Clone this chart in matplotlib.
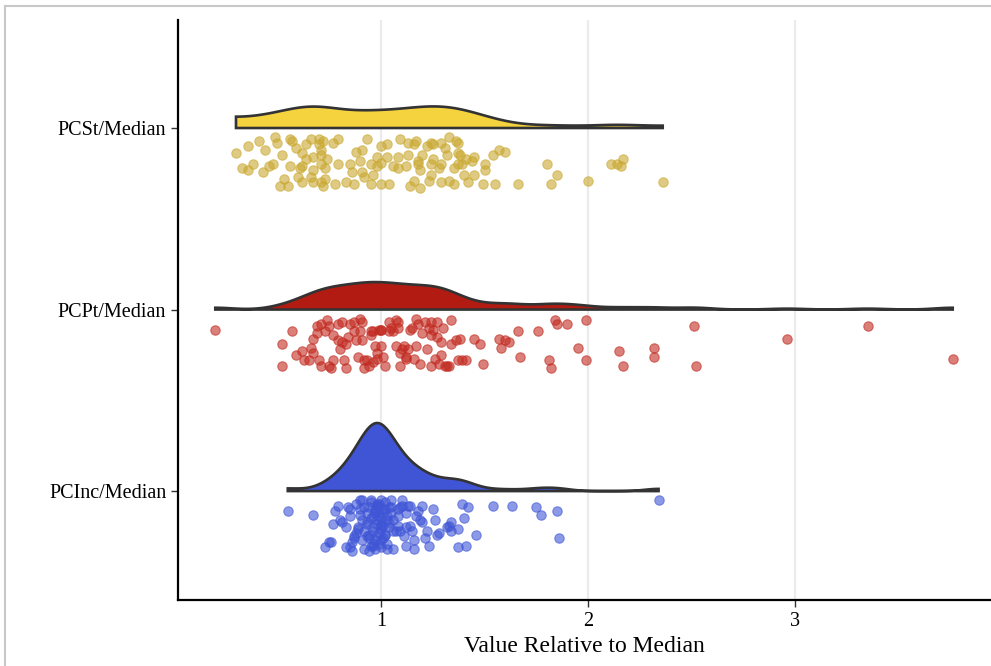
import numpy as np
import matplotlib
matplotlib.use("Agg")
import matplotlib.pyplot as plt
from matplotlib.lines import Line2D

# groups, top to bottom
groups = ["PCSt/Median", "PCPt/Median", "PCInc/Median"]
fills = ["#F5D33F", "#B21B12", "#3F55D6"]
dots = ["#C9A830", "#C22A20", "#3F55D6"]

# values relative to median and the jitter (drop below the baseline)
pcst_val = [0.41, 0.49, 0.50, 0.56, 0.57, 0.66, 0.70, 0.72, 0.79, 0.93, 1.09, 1.13, 1.17, 1.24, 1.29, 1.33, 1.36, 1.37,
            0.36, 0.59, 0.64, 0.70, 0.71, 0.77, 0.88, 0.91, 1.00, 1.03, 1.16, 1.22, 1.25, 1.31, 1.57, 1.60,
            0.30, 0.44, 0.52, 0.62, 0.64, 0.67, 0.71, 0.74, 0.90, 0.98, 1.03, 1.08, 1.13, 1.18, 1.20, 1.25, 1.32, 1.37,
            1.38, 1.41, 1.45, 1.44, 1.54,
            0.33, 0.36, 0.38, 0.43, 0.46, 0.48, 0.56, 0.61, 0.62, 0.67, 0.71, 0.73, 0.79, 0.85, 0.86, 0.91, 0.95, 0.98,
            1.00, 1.06, 1.08, 1.12, 1.18, 1.19, 1.24, 1.28, 1.29, 1.35, 1.37, 1.39, 1.50, 1.50, 1.80, 2.11, 2.14, 2.16, 2.17,
            0.51, 0.53, 0.55, 0.60, 0.62, 0.66, 0.67, 0.71, 0.73, 0.72, 0.78, 0.83, 0.87, 0.92, 0.95, 0.96, 1.00, 1.04,
            1.14, 1.16, 1.19, 1.23, 1.24, 1.29, 1.33, 1.35, 1.40, 1.42, 1.45, 1.49, 1.55, 1.66, 1.82, 1.85, 2.00, 2.36]
pcst_jit = [.07, .05, .08, .06, .07, .06, .06, .07, .06, .06, .06, .08, .07, .08, .08, .05, .07, .08,
            .10, .11, .09, .09, .12, .08, .13, .12, .10, .09, .09, .10, .09, .11, .12, .13,
            .14, .12, .15, .14, .17, .16, .15, .17, .18, .16, .16, .16, .15, .18, .15, .17, .15, .14,
            .15, .17, .16, .18, .15,
            .22, .23, .20, .24, .21, .20, .21, .22, .21, .23, .20, .22, .20, .20, .24, .24, .20, .21,
            .19, .21, .22, .21, .20, .23, .20, .22, .20, .22, .20, .20, .20, .23, .20, .20, .20, .21, .17,
            .32, .28, .32, .27, .30, .27, .30, .30, .28, .32, .31, .30, .31, .27, .31, .26, .31, .31,
            .32, .29, .33, .29, .26, .30, .29, .31, .26, .30, .26, .31, .31, .31, .31, .26, .29, .30]

pcpt_val = [0.20, 0.57, 0.52, 0.52, 0.59, 0.62, 0.63, 0.65, 0.66, 0.67, 0.67, 0.69, 0.69, 0.70, 0.71, 0.71,
            0.73, 0.74, 0.75, 0.75, 0.76, 0.77, 0.77, 0.79, 0.79, 0.80, 0.81, 0.81, 0.82, 0.83, 0.83, 0.84,
            0.85, 0.87, 0.87, 0.88, 0.89, 0.90, 0.90, 0.91, 0.91, 0.92, 0.92, 0.93, 0.94, 0.95, 0.95, 0.96,
            0.96, 0.97, 0.98, 0.98, 0.99, 1.00, 1.00, 1.00, 1.01, 1.02, 1.04, 1.04, 1.05, 1.06, 1.07, 1.07,
            1.08, 1.08, 1.09, 1.09, 1.10, 1.11, 1.12, 1.12, 1.13, 1.14, 1.15, 1.16, 1.17, 1.17, 1.18, 1.19,
            1.20, 1.21, 1.22, 1.23, 1.24, 1.24, 1.24, 1.25, 1.26, 1.27, 1.27, 1.28, 1.29, 1.29, 1.30, 1.31,
            1.32, 1.33, 1.34, 1.34, 1.36, 1.37, 1.38, 1.39, 1.41, 1.45, 1.48, 1.49, 1.57, 1.58, 1.60, 1.62,
            1.66, 1.67, 1.76, 1.81, 1.82, 1.84, 1.85, 1.90, 1.95, 1.99, 1.99,
            2.15, 2.17, 2.32, 2.32, 2.51, 2.52, 2.96, 3.35, 3.76]
pcpt_jit = [.11, .12, .19, .31, .25, .23, .28, .28, .21, .24, .16, .09, .13, .28, .08, .31,
            .12, .06, .09, .31, .32, .28, .14, .08, .17, .22, .18, .07, .28, .32, .19, .15,
            .08, .12, .07, .17, .26, .12, .05, .17, .07, .32, .28, .28, .31, .12, .14, .29,
            .12, .20, .24, .27, .11, .11, .11, .20, .26, .31, .12, .07, .10, .12, .06, .20,
            .07, .10, .31, .24, .22, .20, .26, .27, .22, .11, .10, .27, .05, .20, .08, .30,
            .13, .07, .22, .10, .07, .14, .31, .11, .27, .15, .07, .30, .18, .25, .10, .31,
            .31, .31, .19, .06, .17, .28, .16, .28, .28, .16, .19, .30, .16, .21, .17, .18,
            .12, .26, .12, .28, .32, .06, .08, .08, .21, .06, .28,
            .23, .31, .21, .26, .09, .31, .16, .09, .27]

pcinc_val = [0.55, 0.67, 0.73, 0.75, 0.76, 0.77, 0.78, 0.79, 0.80, 0.81, 0.83, 0.83, 0.84, 0.85, 0.85, 0.85,
             0.86, 0.86, 0.87, 0.87, 0.88, 0.89, 0.90, 0.90, 0.91, 0.91, 0.92, 0.92, 0.93, 0.93, 0.93, 0.94,
             0.94, 0.95, 0.95, 0.96, 0.96, 0.97, 0.97, 0.98, 0.98, 0.99, 0.99, 1.00, 1.00, 1.00, 1.01, 1.01,
             1.02, 1.02, 1.03, 1.03, 1.04, 1.04, 1.05, 1.05, 1.06, 1.06, 1.07, 1.08, 1.08, 1.08, 1.09, 1.09,
             1.10, 1.10, 1.11, 1.12, 1.12, 1.12, 1.13, 1.14, 1.14, 1.15, 1.16, 1.16, 1.17, 1.18, 1.19, 1.20,
             1.20, 1.21, 1.22, 1.23, 1.25, 1.26, 1.27, 1.28, 1.32, 1.33, 1.34, 1.34, 1.37, 1.37, 1.39, 1.40,
             1.41, 1.42, 1.46, 1.54, 1.63, 1.75, 1.77, 1.85, 1.86, 2.34,
             # overlapping dots in the dense core
             0.88, 0.89, 0.90, 0.91, 0.92, 0.93, 0.94, 0.95, 0.95, 0.96, 0.96, 0.97, 0.97, 0.98, 0.98, 0.98,
             0.99, 0.99, 0.99, 1.00, 1.00, 1.00, 1.01, 1.01, 1.02, 1.02, 1.03, 1.03, 1.04, 1.05, 1.06, 0.94,
             0.97, 1.00, 0.96]
pcinc_jit = [.11, .13, .31, .28, .28, .18, .11, .08, .16, .17, .31, .20, .09, .10, .31, .14,
             .28, .33, .25, .26, .23, .20, .05, .10, .16, .05, .22, .32, .12, .25, .18, .33,
             .09, .15, .05, .20, .29, .10, .32, .07, .16, .23, .09, .31, .19, .05, .12, .26,
             .10, .24, .16, .32, .09, .20, .12, .05, .32, .16, .22, .10, .14, .19, .22, .09,
             .05, .08, .25, .20, .30, .12, .08, .08, .19, .22, .27, .32, .14, .11, .16, .17,
             .08, .26, .22, .30, .10, .16, .24, .23, .20, .19, .22, .17, .31, .21, .07, .15,
             .30, .09, .24, .08, .08, .09, .13, .11, .26, .05,
             .07, .21, .13, .27, .09, .17, .24, .06, .30, .14, .22, .11, .27, .08, .18, .25,
             .13, .29, .07, .21, .15, .27, .10, .19, .06, .24, .14, .29, .17, .09, .22, .26,
             .12, .18, .30]

values = [pcst_val, pcpt_val, pcinc_val]
jitters = [pcst_jit, pcpt_jit, pcinc_jit]
positions = [3, 2, 1]
bandwidths = [0.12, 0.085, 0.065]


def bounded_kde(x, grid, bw):
    # gaussian kde reflected at the ends of the data range
    n = len(x)
    lo, hi = x.min(), x.max()
    d = np.zeros_like(grid)
    for c in (x, 2 * lo - x, 2 * hi - x):
        d += np.exp(-0.5 * ((grid[:, None] - c[None, :]) / bw) ** 2).sum(1)
    return d / (n * bw * np.sqrt(2 * np.pi))


plt.rcParams['font.family'] = ['Liberation Serif', 'DejaVu Serif']
fig = plt.figure(figsize=(9.91, 6.66), dpi=100)
ax = fig.add_axes([178 / 991, 66 / 666, 812 / 991, 580 / 666])

grids = []
dens = []
for v, bw in zip(values, bandwidths):
    x = np.array(v)
    g = np.linspace(x.min(), x.max(), 400)
    grids.append(g)
    dens.append(bounded_kde(x, g, bw))
scale = 0.375 / max(d.max() for d in dens)

for g, d, pos, fc in zip(grids, dens, positions, fills):
    xs = np.concatenate([[g[0]], g, [g[-1]]])
    ys = np.concatenate([[pos], pos + d * scale, [pos]])
    ax.fill(xs, ys, facecolor=fc, edgecolor="#333333", linewidth=1.9, zorder=2)

for v, j, pos, c in zip(values, jitters, positions, dots):
    ax.scatter(v, pos - np.array(j), s=46, color=c, alpha=0.6, edgecolors=c, linewidths=0.8, zorder=3)

ax.set_xlim(0.02, 3.94)
ax.set_ylim(0.4, 3.595)
ax.set_xticks([1, 2, 3])
ax.set_yticks(positions)
ax.set_yticklabels(groups)
ax.tick_params(labelsize=14.5, length=5, width=1, color="#333333", labelcolor="black")
ax.grid(axis="x", color="#EBEBEB", linewidth=1.6, zorder=0)
ax.set_axisbelow(True)
ax.set_xlabel("Value Relative to Median", fontsize=17, labelpad=4)
ax.spines["top"].set_visible(False)
ax.spines["right"].set_visible(False)
ax.spines["left"].set_linewidth(1.6)
ax.spines["bottom"].set_linewidth(1.6)

# light frame of the screenshot
fig.add_artist(Line2D([5 / 991, 5 / 991], [0, 1 - 6 / 666], color="#C8C8C8", linewidth=1.5))
fig.add_artist(Line2D([5 / 991, 1], [1 - 6 / 666, 1 - 6 / 666], color="#C8C8C8", linewidth=1.5))

fig.savefig("out.png", dpi=100)
